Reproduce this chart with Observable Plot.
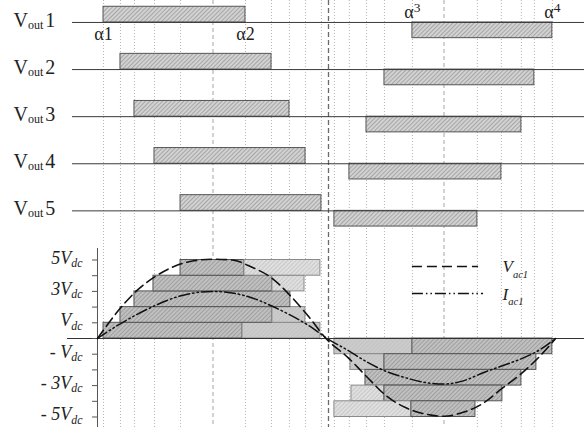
<!DOCTYPE html>
<html><head><meta charset="utf-8">
<script src="https://cdn.jsdelivr.net/npm/d3@7"></script>
<script src="https://cdn.jsdelivr.net/npm/@observablehq/plot@0.6"></script>
<style>
html,body{margin:0;padding:0;background:#fff;}
#chart{width:584px;height:427px;overflow:hidden;}
</style></head><body><div id="chart"></div>
<script>
// ---- data (angles in electrical degrees, levels in Vdc units) ----
const cells = ["1", "2", "3", "4", "5"];
const posStart = [4.7, 17.9, 28.8, 44.4, 64.7];
const posEnd   = [115.3, 135.6, 149.6, 162.1, 174.5];
const negStart = [245.4, 223.6, 209.6, 196.3, 184.6];
const negEnd   = [354.4, 340.4, 330.3, 314.7, 296.0];

// staircase segments of the output voltage
const stairLevel = [1, 1, 2, 2, 3, 4, 4, 5, 5, -1, -1, -2, -2, -3, -4, -4, -5, -5];
const stairStart = [4.7, 113.0, 17.9, 136.3, 28.8, 43.6, 136.3, 64.7, 114.5, 184.6, 245.4, 197.1, 223.6, 208.8, 197.9, 223.6, 184.6, 244.6];
const stairEnd   = [113.0, 173.7, 136.3, 162.0, 150.3, 136.3, 161.3, 114.5, 173.7, 245.4, 354.4, 223.6, 342.0, 330.3, 223.6, 315.5, 244.6, 294.5];
const stairShade = ["dark", "plain", "dark", "plain", "dark", "dark", "pale", "dark", "pale", "plain", "dark", "plain", "dark", "dark", "pale", "dark", "pale", "dark"];

// fundamental voltage and current
const vacAngle = [0, 15, 30, 45, 60, 75, 90, 105, 120, 135, 150, 165, 178, 195, 210, 225, 240, 255, 270, 285, 300, 315, 330, 345, 357];
const vac      = [0, 1.65, 3.0, 3.95, 4.6, 4.95, 5.05, 5.0, 4.55, 3.9, 2.75, 1.35, 0, -1.2, -2.45, -3.65, -4.4, -4.8, -4.95, -4.7, -4.15, -3.2, -2.25, -1.1, 0];
const iacAngle = [0, 15, 30, 45, 60, 75, 90, 105, 120, 135, 150, 165, 179, 195, 210, 225, 240, 255, 270, 285, 300, 315, 330, 345, 357];
const iac      = [0, 0.8, 1.5, 2.1, 2.6, 2.9, 3.0, 2.9, 2.6, 2.1, 1.5, 0.8, 0, -0.75, -1.5, -2.1, -2.5, -2.8, -2.9, -2.7, -2.2, -1.75, -1.3, -0.7, 0];

// axis ticks and labels
const tickLevels = [-5, -4, -3, -2, -1, 0, 1, 2, 3, 4, 5];
const labelLevels = [5, 3, 1, -1, -3, -5];
const labelText = ["5V{dc}", "3V{dc}", "V{dc}", "- V{dc}", "- 3V{dc}", "- 5V{dc}"];
const alphaText = ["α1", "α2", "α^3", "α^4"];
const legendText = ["V{ac1}", "I{ac1}"];
const quarterAngles = [90, 270];
const halfAngles = [180];

// ---- derived tables ----
const lane = i => 20.13 - 3 * i;
const pulses = cells.flatMap((c, i) => [
  {x1: posStart[i], x2: posEnd[i], y1: lane(i), y2: lane(i) + 1},
  {x1: negStart[i], x2: negEnd[i], y1: lane(i) - 1, y2: lane(i)}
]);
const stairs = stairLevel.map((L, i) => ({
  x1: stairStart[i], x2: stairEnd[i], y1: L - Math.sign(L), y2: L, shade: stairShade[i]
}));
const gridAngles = Array.from(new Set([...posStart, ...posEnd, ...negStart, ...negEnd]));
const fillFor = {dark: "url(#hDark)", plain: "url(#hPlain)", pale: "url(#hPale)"};
const strokeFor = {dark: "#555", plain: "#8a8a8a", pale: "#8a8a8a"};

const serif = "'Liberation Serif', 'Times New Roman', serif";
const dashV = "10,5";
const dashI = "11,3,1.5,3,1.5,3";

const plot = Plot.plot({
  width: 584, height: 427, margin: 0,
  x: {domain: [-75.58, 379.48], axis: null},
  y: {domain: [-5.669, 21.529], axis: null},
  style: {fontFamily: serif, background: "#fff", color: "#222"},
  marks: [
    Plot.ruleX(gridAngles, {stroke: "#b5b5b5", strokeDasharray: "1,2"}),
    Plot.ruleX(quarterAngles, {stroke: "#a5a5a5", strokeDasharray: "4,3"}),
    Plot.ruleX(halfAngles, {stroke: "#6a6a6a", strokeDasharray: "5,3", strokeWidth: 1.3}),
    // staircase
    Plot.rect(stairs, {x1: "x1", x2: "x2", y1: "y1", y2: "y2",
      fill: d => fillFor[d.shade], stroke: d => strokeFor[d.shade], strokeWidth: 1}),
    // cell pulses
    Plot.rect(pulses, {x1: "x1", x2: "x2", y1: "y1", y2: "y2", fill: "url(#hTop)", stroke: "#555", strokeWidth: 1}),
    Plot.ruleY(cells, {y: (d, i) => lane(i), insetLeft: 72, stroke: "#3a3a3a", strokeWidth: 1}),
    // bottom axis
    Plot.ruleY([0], {insetLeft: 67, stroke: "#333", strokeWidth: 1.2}),
    Plot.ruleX([0], {insetTop: 248, stroke: "#555", strokeWidth: 1}),
    Plot.ruleY(tickLevels, {x1: 0, x2: 0, insetLeft: -5, stroke: "#555"}),
    Plot.text(labelLevels, {x: 0, y: d => d, text: (d, i) => labelText[i], textAnchor: "end", lineAnchor: "bottom",
      dx: -15, dy: 3.5, fontSize: 18, fontStyle: "italic", fill: "#222", className: "axlab"}),
    // fundamentals
    Plot.line(vacAngle, {x: d => d, y: (d, i) => vac[i], curve: "monotone-x", stroke: "#111", strokeWidth: 1.6, strokeDasharray: dashV}),
    Plot.line(iacAngle, {x: d => d, y: (d, i) => iac[i], curve: "monotone-x", stroke: "#111", strokeWidth: 1.5, strokeDasharray: dashI}),
    // legend
    Plot.ruleY([4.586], {x1: 245.4, x2: 296.9, stroke: "#111", strokeWidth: 1.6, strokeDasharray: dashV}),
    Plot.ruleY([2.866], {x1: 245.4, x2: 300.8, stroke: "#111", strokeWidth: 1.5, strokeDasharray: dashI}),
    Plot.text(legendText, {x: 315.6, y: (d, i) => [4.586, 2.866][i], text: d => d, textAnchor: "start", lineAnchor: "bottom",
      dy: 6, fontSize: 17, fontStyle: "italic", fill: "#222", className: "leg"}),
    // lane labels
    Plot.text(cells, {frameAnchor: "left", y: (d, i) => lane(i), text: d => "V{out}" + d, textAnchor: "start", lineAnchor: "bottom",
      dx: 13, dy: 4.5, fontSize: 20, fill: "#222", className: "vout"}),
    // switching angle labels
    Plot.text(alphaText.slice(0, 2), {x: (d, i) => [posStart[0], posEnd[0]][i], y: lane(0), text: d => d, textAnchor: "middle",
      lineAnchor: "bottom", dy: 18, fontSize: 18, fill: "#222", className: "alpha"}),
    Plot.text(alphaText.slice(2), {x: (d, i) => [negStart[0], negEnd[0]][i], y: lane(0), text: d => d, textAnchor: "middle",
      lineAnchor: "bottom", dy: -4, fontSize: 18, fill: "#222", className: "alpha"})
  ]
});

document.getElementById("chart").appendChild(plot);

// hatch patterns
const defs = d3.select(plot).insert("defs", ":first-child");
function hatch(id, bg, line, spacing, w) {
  const p = defs.append("pattern").attr("id", id).attr("patternUnits", "userSpaceOnUse")
    .attr("width", spacing).attr("height", spacing).attr("patternTransform", "rotate(45)");
  p.append("rect").attr("width", spacing).attr("height", spacing).attr("fill", bg);
  p.append("line").attr("x1", 0.5).attr("y1", 0).attr("x2", 0.5).attr("y2", spacing).attr("stroke", line).attr("stroke-width", w);
}
hatch("hTop", "#d2d2d2", "#a2a2a2", 3, 0.9);
hatch("hDark", "#c0c0c0", "#9c9c9c", 3, 0.9);
hatch("hPlain", "#cbcbcb", "#c2c2c2", 3, 0.8);
hatch("hPale", "#dfdfdf", "#c4c4c4", 3, 0.8);

// rich text: {sub} and ^sup
function rich(selector, subScale, subDy, supDy, gapAfterSub) {
  plot.querySelectorAll(selector + " text").forEach(t => {
    const s = t.textContent;
    if (!/[{^]/.test(s)) return;
    const base = parseFloat(getComputedStyle(t).fontSize);
    t.textContent = "";
    let shift = 0, prevSub = false;
    const re = /\{([^}]*)\}|\^(.)|([^{^]+)/g;
    let m;
    while ((m = re.exec(s))) {
      const sp = document.createElementNS("http://www.w3.org/2000/svg", "tspan");
      let target, txt, size, isSub = false;
      if (m[1] !== undefined) { target = base * subDy; txt = m[1]; size = base * subScale; isSub = true; }
      else if (m[2] !== undefined) { target = -base * supDy; txt = m[2]; size = base * subScale; }
      else { target = 0; txt = m[3]; size = base; }
      sp.setAttribute("font-size", size.toFixed(2));
      if (target !== shift) sp.setAttribute("dy", (target - shift).toFixed(2));
      if (prevSub && !isSub && gapAfterSub) sp.setAttribute("dx", gapAfterSub);
      shift = target; prevSub = isSub;
      sp.textContent = txt;
      t.appendChild(sp);
    }
  });
}
rich(".axlab", 0.66, 0.18, 0, 0);
rich(".leg", 0.62, 0.3, 0, 0);
rich(".vout", 0.6, 0.08, 0, 2);
rich(".alpha", 0.75, 0, 0.35, 0);
</script></body></html>
